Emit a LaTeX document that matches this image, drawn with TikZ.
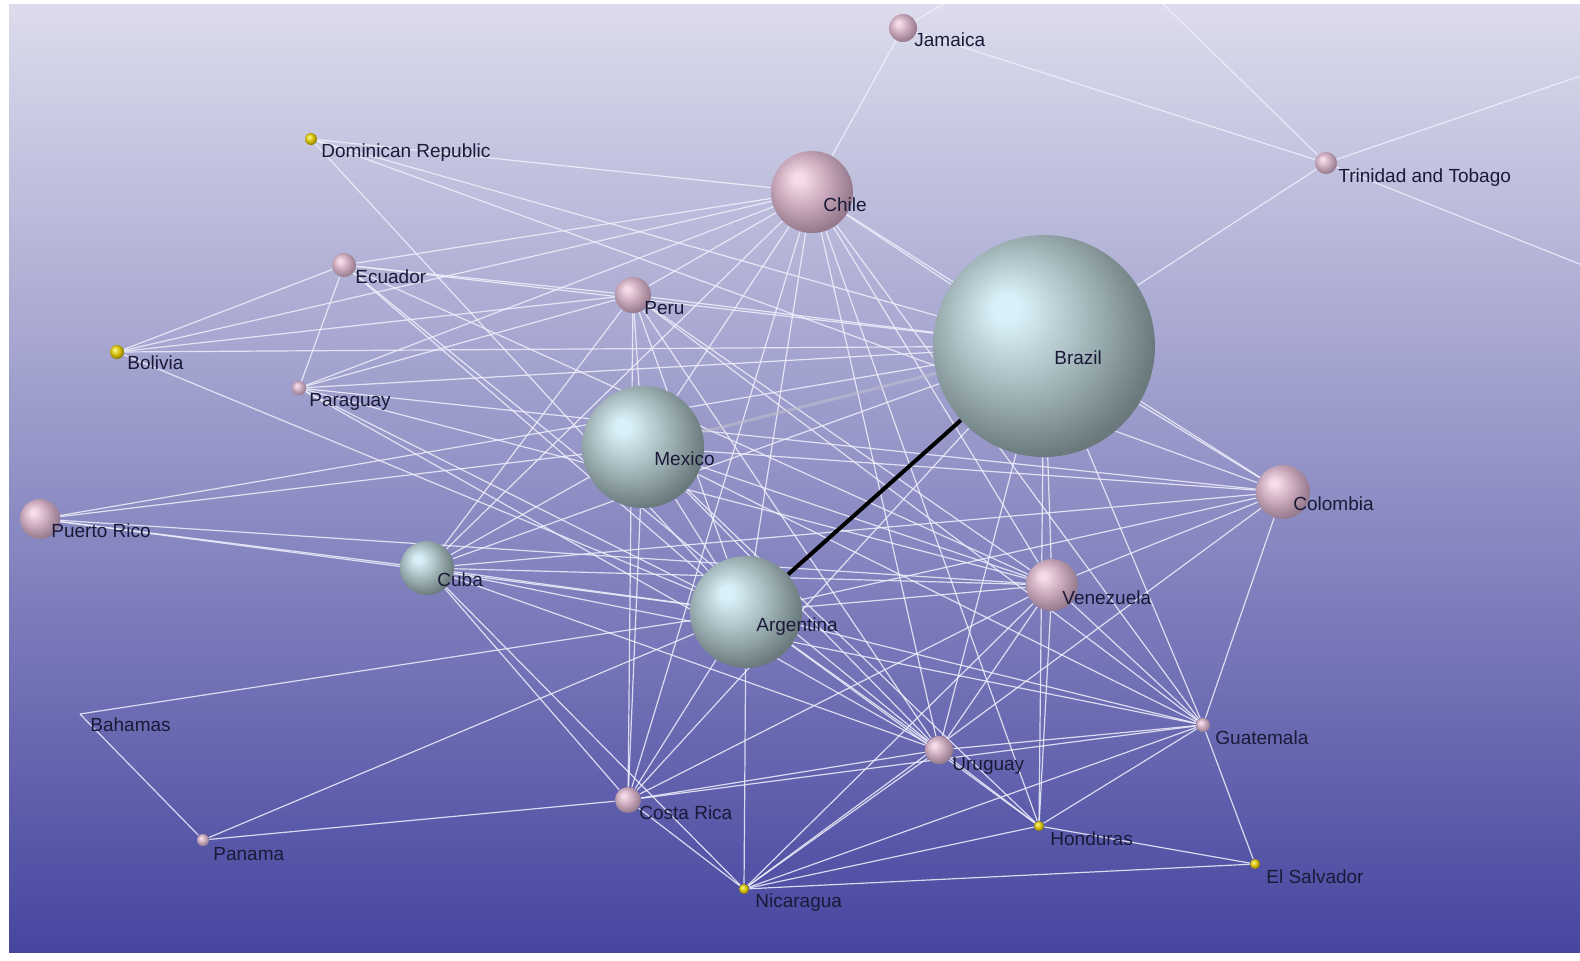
\documentclass[tikz,border=0pt]{standalone}
\usepackage{fontspec}
\setmainfont{Liberation Sans}

\definecolor{skytop}{RGB}{220,220,236}
\definecolor{skymid}{RGB}{146,146,200}
\definecolor{skybot}{RGB}{70,70,160}
\definecolor{ink}{RGB}{26,26,56}
\definecolor{wire}{RGB}{240,240,252}
\definecolor{fade}{RGB}{190,190,205}

\definecolor{pinkhi}{RGB}{246,220,234}
\definecolor{pinkmid}{RGB}{200,168,186}
\definecolor{pinkdark}{RGB}{148,120,140}
\definecolor{tealhi}{RGB}{218,240,248}
\definecolor{tealmid}{RGB}{164,184,188}
\definecolor{tealdark}{RGB}{106,122,124}
\definecolor{goldhi}{RGB}{245,240,120}
\definecolor{goldmid}{RGB}{208,188,10}
\definecolor{golddark}{RGB}{135,115,0}

\pgfdeclareradialshading{pinkball}{\pgfpoint{-9bp}{9bp}}{color(0bp)=(pinkhi); color(3bp)=(pinkhi); color(16bp)=(pinkmid); color(29bp)=(pinkdark); color(50bp)=(pinkdark)}
\pgfdeclareradialshading{tealball}{\pgfpoint{-9bp}{9bp}}{color(0bp)=(tealhi); color(3bp)=(tealhi); color(16bp)=(tealmid); color(29bp)=(tealdark); color(50bp)=(tealdark)}
\pgfdeclareradialshading{goldball}{\pgfpoint{-9bp}{9bp}}{color(0bp)=(goldhi); color(3bp)=(goldhi); color(16bp)=(goldmid); color(29bp)=(golddark); color(50bp)=(golddark)}

\pgfdeclarelayer{back}
\pgfdeclarelayer{links}
\pgfsetlayers{back,links,main}

\tikzset{
	country/.style = {circle, inner sep = 0pt, draw = none},
	pinksphere/.style = {country, shading = pinkball},
	tealsphere/.style = {country, shading = tealball},
	goldsphere/.style = {country, shading = goldball},
	tag/.style = {anchor = base west, inner sep = 0pt, text = ink, font = \fontsize{9.5pt}{11pt}\selectfont},
	link/.style = {draw = wire, line width = 0.6pt, opacity = 0.85}
}

\begin{document}
\begin{tikzpicture}[x = 0.5pt, y = -0.5pt]

	% Page and sky

	\useasboundingbox (0, 0) rectangle (1580, 960);
	\begin{pgfonlayer}{back}
		\fill [white] (0, 0) rectangle (1580, 960);
		\shade [top color = skytop, middle color = skymid, bottom color = skybot] (9, 4) rectangle (1580, 952);
	\end{pgfonlayer}

	% Countries

		% Large spheres

		\node (brazil) [tealsphere, minimum size = 111pt] at (1044, 346) {};
		\node (mexico) [tealsphere, minimum size = 61pt] at (643, 447) {};
		\node (argentina) [tealsphere, minimum size = 56pt] at (746, 612) {};
		\node (cuba) [tealsphere, minimum size = 27pt] at (427, 568) {};

		% Pink spheres

		\node (chile) [pinksphere, minimum size = 41pt] at (812, 192) {};
		\node (jamaica) [pinksphere, minimum size = 14pt] at (903, 28) {};
		\node (trinidad) [pinksphere, minimum size = 11pt] at (1326, 163) {};
		\node (ecuador) [pinksphere, minimum size = 12pt] at (344, 265) {};
		\node (peru) [pinksphere, minimum size = 18pt] at (633, 295) {};
		\node (paraguay) [pinksphere, minimum size = 7pt] at (299, 388) {};
		\node (colombia) [pinksphere, minimum size = 27pt] at (1283, 492) {};
		\node (puertorico) [pinksphere, minimum size = 20pt] at (40, 519) {};
		\node (venezuela) [pinksphere, minimum size = 26pt] at (1052, 585) {};
		\node (guatemala) [pinksphere, minimum size = 7pt] at (1203, 725) {};
		\node (uruguay) [pinksphere, minimum size = 14pt] at (939, 750) {};
		\node (costarica) [pinksphere, minimum size = 13pt] at (628, 800) {};
		\node (panama) [pinksphere, minimum size = 6pt] at (203, 840) {};

		% Small yellow spheres

		\node (dominican) [goldsphere, minimum size = 6pt] at (311, 139) {};
		\node (bolivia) [goldsphere, minimum size = 7pt] at (117, 352) {};
		\node (honduras) [goldsphere, minimum size = 5pt] at (1039, 826) {};
		\node (nicaragua) [goldsphere, minimum size = 5pt] at (744, 889) {};
		\node (salvador) [goldsphere, minimum size = 5pt] at (1255, 864) {};

		% Points without sphere

		\coordinate (bahamas) at (80, 714);
		\coordinate (offnorth) at (1080, -77);
		\coordinate (offeast) at (1700, 35);
		\coordinate (offsoutheast) at (1700, 312);

	% Names

	\node (jamaica label) [tag] at (914, 46) {Jamaica};
	\node (dominican label) [tag] at (321, 157) {Dominican Republic};
	\node (trinidad label) [tag] at (1338, 182) {Trinidad and Tobago};
	\node (chile label) [tag] at (823, 211) {Chile};
	\node (ecuador label) [tag] at (355, 283) {Ecuador};
	\node (peru label) [tag] at (644, 314) {Peru};
	\node (brazil label) [tag] at (1054, 364) {Brazil};
	\node (bolivia label) [tag] at (127, 369) {Bolivia};
	\node (paraguay label) [tag] at (309, 406) {Paraguay};
	\node (mexico label) [tag] at (654, 465) {Mexico};
	\node (colombia label) [tag] at (1293, 510) {Colombia};
	\node (puertorico label) [tag] at (51, 537) {Puerto Rico};
	\node (cuba label) [tag] at (437, 586) {Cuba};
	\node (venezuela label) [tag] at (1062, 604) {Venezuela};
	\node (argentina label) [tag] at (756, 631) {Argentina};
	\node (bahamas label) [tag] at (90, 731) {Bahamas};
	\node (guatemala label) [tag] at (1215, 744) {Guatemala};
	\node (uruguay label) [tag] at (952, 770) {Uruguay};
	\node (costarica label) [tag] at (639, 819) {Costa Rica};
	\node (honduras label) [tag] at (1050, 845) {Honduras};
	\node (panama label) [tag] at (213, 860) {Panama};
	\node (nicaragua label) [tag] at (755, 907) {Nicaragua};
	\node (salvador label) [tag] at (1266, 883) {El Salvador};

	% Ties

	\begin{pgfonlayer}{links}
		\begin{scope}
			\clip (9, 4) rectangle (1580, 952);

			\foreach \a/\b in {jamaica/chile, jamaica/trinidad, jamaica/offnorth,
				trinidad/offnorth, trinidad/offeast, trinidad/offsoutheast, trinidad/brazil,
				dominican/chile, dominican/brazil, dominican/colombia, dominican/argentina,
				chile/ecuador, chile/bolivia, chile/paraguay, chile/peru, chile/mexico,
				chile/cuba, chile/argentina, chile/brazil, chile/colombia, chile/venezuela, chile/uruguay,
				chile/costarica, chile/honduras, chile/guatemala,
				ecuador/peru, ecuador/brazil, ecuador/bolivia, ecuador/paraguay, ecuador/argentina,
				ecuador/uruguay, ecuador/venezuela,
				peru/bolivia, peru/paraguay, peru/brazil, peru/mexico, peru/cuba, peru/argentina,
				peru/venezuela, peru/uruguay, peru/costarica, peru/guatemala,
				bolivia/brazil, bolivia/argentina,
				paraguay/brazil, paraguay/argentina, paraguay/uruguay, paraguay/venezuela, paraguay/colombia,
				puertorico/brazil, puertorico/mexico, puertorico/cuba, puertorico/argentina, puertorico/venezuela,
				brazil/cuba, brazil/colombia, brazil/venezuela, brazil/uruguay, brazil/costarica,
				brazil/honduras, brazil/guatemala,
				mexico/cuba, mexico/argentina, mexico/venezuela, mexico/colombia, mexico/uruguay,
				mexico/costarica, mexico/guatemala, mexico/honduras,
				cuba/argentina, cuba/venezuela, cuba/colombia, cuba/uruguay, cuba/costarica,
				cuba/nicaragua, cuba/guatemala,
				argentina/venezuela, argentina/colombia, argentina/uruguay, argentina/costarica,
				argentina/nicaragua, argentina/honduras, argentina/guatemala, argentina/panama, argentina/bahamas,
				venezuela/colombia, venezuela/uruguay, venezuela/costarica, venezuela/nicaragua,
				venezuela/honduras, venezuela/guatemala,
				colombia/guatemala, colombia/nicaragua,
				uruguay/guatemala, uruguay/honduras, uruguay/costarica, uruguay/nicaragua,
				guatemala/honduras, guatemala/salvador, guatemala/nicaragua, guatemala/costarica,
				honduras/salvador, honduras/nicaragua,
				nicaragua/salvador, nicaragua/costarica,
				costarica/panama, panama/bahamas}
				\draw [link] (\a) -- (\b);

			% Faded and strong ties

			\draw [draw = fade, line width = 1.5pt, opacity = 0.6] (mexico) -- (brazil);
			\draw [line width = 2pt] (argentina) -- (brazil);

		\end{scope}
	\end{pgfonlayer}

\end{tikzpicture}
\end{document}
